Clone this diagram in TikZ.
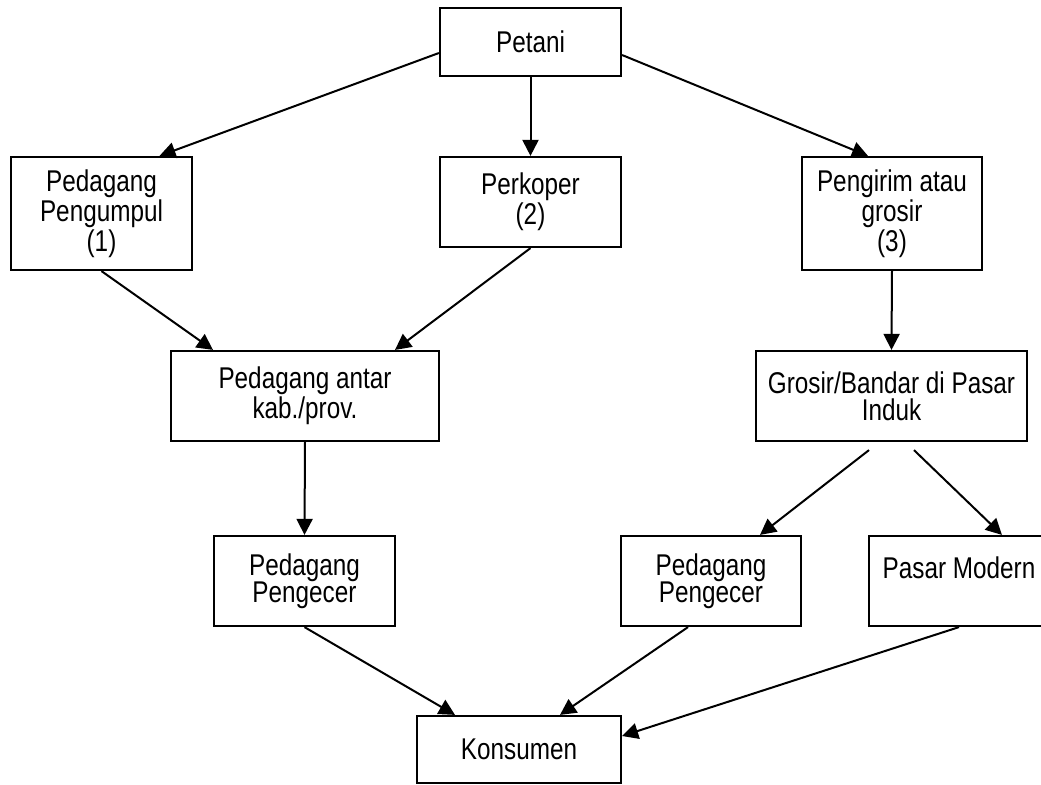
\documentclass[tikz,border=0pt]{standalone}
\usepackage{fontspec}
\setmainfont{Liberation Sans}[FakeStretch=0.81]
\usetikzlibrary{arrows.meta}

\begin{document}
\begin{tikzpicture}[x=0.5pt, y=-0.5pt,
  box/.style={draw, line width=1.1pt, inner sep=0pt, align=center,
    font=\fontsize{15}{13.7}\selectfont},
  arr/.style={line width=1pt, -{Triangle[length=8pt, width=8pt]}}]
\useasboundingbox (0,0) rectangle (1041,784);
\clip (0,0) rectangle (1041,784);

% Boxes
\node[box, minimum width=90.5pt, minimum height=34pt] (petani) at (530.5,42) {Petani};
\node[box, minimum width=90.5pt, minimum height=56.5pt] (pengumpul) at (101.5,213.5) {Pedagang\\Pengumpul\\(1)};
\node[box, minimum width=90.5pt, minimum height=45pt] (perkoper) at (530.5,202) {Perkoper\\(2)};
\node[box, minimum width=90pt, minimum height=56.5pt] (pengirim) at (892,213.5) {Pengirim atau\\grosir\\(3)};
\node[box, minimum width=134pt, minimum height=45pt] (antar) at (305,396) {Pedagang antar\\kab./prov.};
\node[box, minimum width=135.5pt, minimum height=45pt] (grosir) at (891.5,396) {Grosir/Bandar di Pasar\\Induk};
\node[box, minimum width=90.5pt, minimum height=45pt] (pengecerA) at (304.5,581) {Pedagang\\Pengecer};
\node[box, minimum width=90pt, minimum height=45pt] (pengecerB) at (711,581) {Pedagang\\Pengecer};
\node[box, minimum width=90pt, minimum height=45pt] (modern) at (959,581) {Pasar Modern\\ \mbox{}};
\node[box, minimum width=102pt, minimum height=33.5pt] (konsumen) at (519,749.5) {Konsumen};

% Arrows from Petani
\draw[arr] ([yshift=-5.5pt]petani.west) -- ([xshift=29pt]pengumpul.north);
\draw[arr] (petani.south) -- (perkoper.north);
\draw[arr] ([yshift=-6.5pt]petani.east) -- ([xshift=-12pt]pengirim.north);

% Second level
\draw[arr] (pengumpul.south) -- ([xshift=-46pt]antar.north);
\draw[arr] (perkoper.south) -- ([xshift=45pt]antar.north);
\draw[arr] (pengirim.south) -- (grosir.north);

% Third level
\draw[arr] (antar.south) -- (pengecerA.north);
\draw[arr] ([xshift=-11.25pt, yshift=-4pt]grosir.south) -- ([xshift=24.5pt]pengecerB.north);
\draw[arr] ([xshift=11.25pt, yshift=-4pt]grosir.south) -- ([xshift=21.5pt]modern.north);

% To Konsumen
\draw[arr] (pengecerA.south) -- ([xshift=-32pt]konsumen.north);
\draw[arr] ([xshift=-11.5pt]pengecerB.south) -- ([xshift=20.5pt]konsumen.north);
\draw[arr] (modern.south) -- ([yshift=6.75pt]konsumen.east);

\end{tikzpicture}
\end{document}
